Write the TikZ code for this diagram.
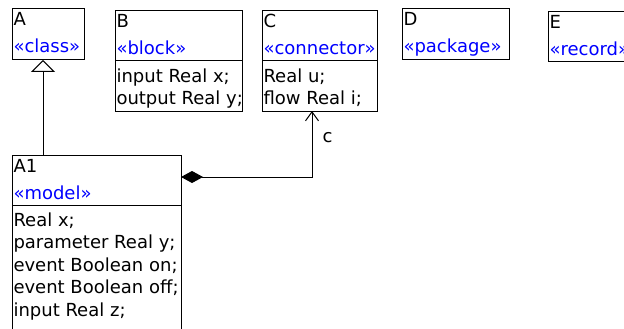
\documentclass[tikz,border=0pt]{standalone}
\usepackage{fontspec}
\setmainfont{DejaVu Sans}
\usetikzlibrary{arrows.meta}

\tikzset{
  cls/.style={draw, anchor=north west, outer sep=0pt, inner sep=0pt},
  txt/.style={anchor=base west, inner sep=0pt},
  stereo/.style={txt, text=blue},
}

\begin{document}
\begin{tikzpicture}[x=1pt, y=-1pt, line width=1pt, font=\fontsize{18}{22}\selectfont]
    \useasboundingbox (0,0) rectangle (624,329);
    \clip (0,0) rectangle (624,329);

    % class boxes
    \node[cls, minimum width=72pt, minimum height=51pt] (A) at (12,9) {};
    \node[cls, minimum width=127pt, minimum height=100pt] (B) at (115,11) {};
    \node[cls, minimum width=115pt, minimum height=100pt] (C) at (262,11) {};
    \node[cls, minimum width=107pt, minimum height=51pt] (D) at (402,9) {};
    \node[cls, minimum width=100pt, minimum height=50pt] (E) at (548,12) {};
    \node[cls, minimum width=169pt, minimum height=200pt] (A1) at (12,155) {};

    % compartment lines
    \draw ([shift={(0,50)}]B.north west) -- ([shift={(0,50)}]B.north east);
    \draw ([shift={(0,50)}]C.north west) -- ([shift={(0,50)}]C.north east);
    \draw ([shift={(0,50)}]A1.north west) -- ([shift={(0,50)}]A1.north east);

    % names and stereotypes
    \node[txt] (A-name) at ([shift={(1,17)}]A.north west) {A};
    \node[stereo] (A-st) at ([shift={(1,44)}]A.north west) {«class»};
    \node[txt] (B-name) at ([shift={(1,17)}]B.north west) {B};
    \node[stereo] (B-st) at ([shift={(1,44)}]B.north west) {«block»};
    \node[txt] (C-name) at ([shift={(1,17)}]C.north west) {C};
    \node[stereo] (C-st) at ([shift={(1,44)}]C.north west) {«connector»};
    \node[txt] (D-name) at ([shift={(1,17)}]D.north west) {D};
    \node[stereo] (D-st) at ([shift={(1,44)}]D.north west) {«package»};
    \node[txt] (E-name) at ([shift={(1,17)}]E.north west) {E};
    \node[stereo] (E-st) at ([shift={(1,44)}]E.north west) {«record»};
    \node[txt] (A1-name) at ([shift={(1,17)}]A1.north west) {A1};
    \node[stereo] (A1-st) at ([shift={(1,44)}]A1.north west) {«model»};

    % attributes
    \node[txt] (B-in) at ([shift={(1,71)}]B.north west) {input Real x;};
    \node[txt] (B-out) at ([shift={(1,93.5)}]B.north west) {output Real y;};
    \node[txt] (C-u) at ([shift={(1,71)}]C.north west) {Real u;};
    \node[txt] (C-i) at ([shift={(1,93.5)}]C.north west) {flow Real i;};
    \node[txt] (A1-x) at ([shift={(1,71)}]A1.north west) {Real x;};
    \node[txt] (A1-y) at ([shift={(1,93.5)}]A1.north west) {parameter Real y;};
    \node[txt] (A1-on) at ([shift={(1,116)}]A1.north west) {event Boolean on;};
    \node[txt] (A1-off) at ([shift={(1,138.5)}]A1.north west) {event Boolean off;};
    \node[txt] (A1-z) at ([shift={(1,161)}]A1.north west) {input Real z;};

    % relations
    \coordinate (gen) at (43,0);
    \coordinate (bend) at (312,177);
    \draw[-{Triangle[open, length=12pt, width=24pt]}] (A1.north -| gen) -- (A.south -| gen);
    \draw[{Diamond[length=22pt, width=12pt]}-{Straight Barb[length=9pt, width=13pt]}]
        (A1.east |- bend) -- (bend)
        -- node[anchor=west, pos=0.6, xshift=10pt, inner sep=0pt] (c-role) {c} (C.south -| bend);
\end{tikzpicture}
\end{document}
